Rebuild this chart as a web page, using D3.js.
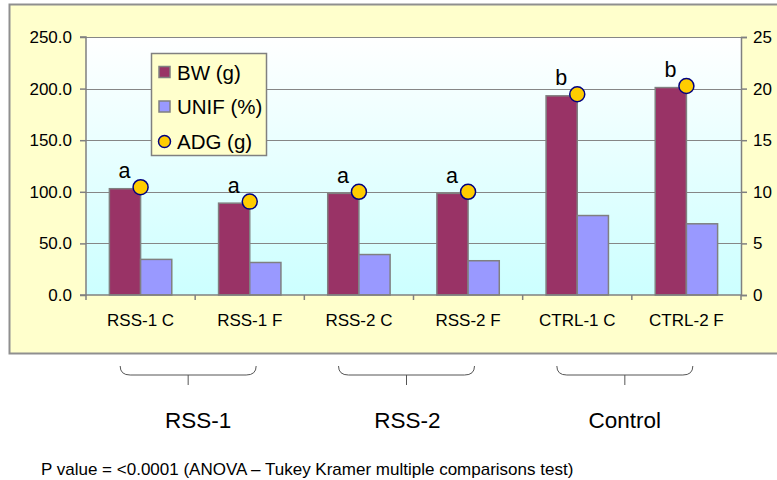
<!DOCTYPE html>
<html>
<head>
<meta charset="utf-8">
<script src="https://cdn.jsdelivr.net/npm/d3@7"></script>
<style>
  body { margin: 0; background: #ffffff; }
  svg { display: block; font-family: "Liberation Sans", Arial, sans-serif; }
</style>
</head>
<body>
<svg id="chart" width="777" height="480"></svg>
<script>
// ---- data ----
const categories = ["RSS-1 C", "RSS-1 F", "RSS-2 C", "RSS-2 F", "CTRL-1 C", "CTRL-2 F"];
const bwValues   = [103, 89, 98.5, 98.5, 193, 201];
const unifValues = [34.5, 31.5, 39.2, 33.2, 77, 69];
const adgValues  = [10.45, 9.05, 10.0, 10.0, 19.45, 20.25];
const sigLetters = ["a", "a", "a", "a", "b", "b"];
const leftTicks  = [0, 50, 100, 150, 200, 250];
const rightTicks = [0, 5, 10, 15, 20, 25];
const seriesNames = ["BW (g)", "UNIF (%)", "ADG (g)"];
const groups = [
  { name: "RSS-1",   members: ["RSS-1 C", "RSS-1 F"] },
  { name: "RSS-2",   members: ["RSS-2 C", "RSS-2 F"] },
  { name: "Control", members: ["CTRL-1 C", "CTRL-2 F"] }
];
const footnote = "P value = <0.0001 (ANOVA \u2013 Tukey Kramer multiple comparisons test)";

// ---- layout ----
const svg = d3.select("#chart");
const plot = { left: 86, right: 741, top: 37, bottom: 295 };
const colors = { bw: "#993366", unif: "#9999FF", adg: "#FFCC00", adgStroke: "#000080", grid: "#868686", outline: "#808080" };

const x = d3.scaleBand().domain(categories).range([plot.left, plot.right]);
const xSub = d3.scaleBand().domain(["BW", "UNIF"]).range([0, x.bandwidth()]).paddingInner(0).paddingOuter(0.75);
const yL = d3.scaleLinear().domain([0, 250]).range([plot.bottom, plot.top]);
const yR = d3.scaleLinear().domain([0, 25]).range([plot.bottom, plot.top]);

// chart area background
svg.append("rect").attr("x", 9.5).attr("y", 4.5).attr("width", 800).attr("height", 349)
  .attr("fill", "#FFFFCC").attr("stroke", "#8f8f8f").attr("stroke-width", 2);

// plot gradient
const defs = svg.append("defs");
const grad = defs.append("linearGradient").attr("id", "pg").attr("x1", 0).attr("y1", 0).attr("x2", 0).attr("y2", 1);
grad.append("stop").attr("offset", "0%").attr("stop-color", "#FFFFFF");
grad.append("stop").attr("offset", "100%").attr("stop-color", "#CCFFFF");
svg.append("rect").attr("x", plot.left).attr("y", plot.top)
  .attr("width", plot.right - plot.left).attr("height", plot.bottom - plot.top)
  .attr("fill", "url(#pg)");

// gridlines
svg.append("g").selectAll("line").data(leftTicks.filter(d => d > 0)).join("line")
  .attr("x1", plot.left).attr("x2", plot.right)
  .attr("y1", d => Math.round(yL(d)) + 0.5).attr("y2", d => Math.round(yL(d)) + 0.5)
  .attr("stroke", colors.grid).attr("stroke-width", 1);

// left axis
const axL = svg.append("g").attr("transform", `translate(${plot.left},0)`)
  .call(d3.axisLeft(yL).tickValues(leftTicks).tickFormat(d3.format(".1f")).tickSize(6).tickPadding(8));
axL.selectAll("path, line").attr("stroke", colors.outline).attr("stroke-width", 1.5);
axL.selectAll("text").attr("font-size", 17).attr("fill", "#000").attr("font-family", "Liberation Sans, Arial, sans-serif");
axL.select(".domain").attr("d", `M-6,${plot.top}H0V${plot.bottom}H-6`);

// right axis
const axR = svg.append("g").attr("transform", `translate(${plot.right},0)`)
  .call(d3.axisRight(yR).tickValues(rightTicks).tickFormat(d3.format("d")).tickSize(6).tickPadding(6));
axR.selectAll("path, line").attr("stroke", colors.outline).attr("stroke-width", 1.5);
axR.selectAll("text").attr("font-size", 17).attr("fill", "#000").attr("font-family", "Liberation Sans, Arial, sans-serif");

// bars
const barG = svg.append("g");
categories.forEach((c, i) => {
  barG.append("rect").attr("x", x(c) + xSub("BW")).attr("y", yL(bwValues[i]))
    .attr("width", xSub.bandwidth()).attr("height", yL(0) - yL(bwValues[i]))
    .attr("fill", colors.bw).attr("stroke", colors.outline).attr("stroke-width", 1.5);
  barG.append("rect").attr("x", x(c) + xSub("UNIF")).attr("y", yL(unifValues[i]))
    .attr("width", xSub.bandwidth()).attr("height", yL(0) - yL(unifValues[i]))
    .attr("fill", colors.unif).attr("stroke", colors.outline).attr("stroke-width", 1.5);
});

// x axis
const boundaries = categories.map(c => x(c)).concat([plot.right]);
svg.append("line").attr("x1", plot.left).attr("x2", plot.right)
  .attr("y1", plot.bottom).attr("y2", plot.bottom).attr("stroke", colors.outline).attr("stroke-width", 1.5);
svg.append("g").selectAll("line").data(boundaries).join("line")
  .attr("x1", d => d).attr("x2", d => d).attr("y1", plot.bottom).attr("y2", plot.bottom + 5)
  .attr("stroke", colors.outline).attr("stroke-width", 1.5);
svg.append("g").selectAll("text").data(categories).join("text")
  .attr("x", d => x(d) + x.bandwidth() / 2).attr("y", 326)
  .attr("text-anchor", "middle").attr("font-size", 17).attr("fill", "#000").text(d => d);

// ADG points
const cx = c => x(c) + x.bandwidth() / 2;
svg.append("g").selectAll("circle").data(categories).join("circle")
  .attr("cx", cx).attr("cy", (d, i) => yR(adgValues[i])).attr("r", 7.5)
  .attr("fill", colors.adg).attr("stroke", colors.adgStroke).attr("stroke-width", 1.5);

// significance letters
svg.append("g").selectAll("text").data(categories).join("text")
  .attr("x", d => cx(d) - 16).attr("y", (d, i) => yR(adgValues[i]) - 9)
  .attr("text-anchor", "middle").attr("font-size", 21.5).attr("fill", "#000")
  .text((d, i) => sigLetters[i]);

// legend
const lg = svg.append("g");
lg.append("rect").attr("x", 151.5).attr("y", 53.5).attr("width", 115).attr("height", 102)
  .attr("fill", "#FFFFCC").attr("stroke", colors.outline).attr("stroke-width", 1.5);
const legendY = [72, 106.5, 141.5];
lg.append("rect").attr("x", 159).attr("y", legendY[0] - 5.5).attr("width", 11).attr("height", 11)
  .attr("fill", colors.bw).attr("stroke", colors.outline).attr("stroke-width", 1.5);
lg.append("rect").attr("x", 159).attr("y", legendY[1] - 5.5).attr("width", 11).attr("height", 11)
  .attr("fill", colors.unif).attr("stroke", colors.outline).attr("stroke-width", 1.5);
lg.append("circle").attr("cx", 164.5).attr("cy", legendY[2]).attr("r", 6)
  .attr("fill", colors.adg).attr("stroke", colors.adgStroke).attr("stroke-width", 1.5);
lg.selectAll("text.lt").data(seriesNames).join("text").attr("class", "lt")
  .attr("x", 177).attr("y", (d, i) => legendY[i] + 7.5)
  .attr("font-size", 20.5).attr("fill", "#000").text(d => d);

// group braces
const braceG = svg.append("g");
const labelShift = [10, 1, 0];
groups.forEach((g, gi) => {
  const mid = x(g.members[1]) - 7;       // brace centre (slightly left of the shared boundary)
  const half = 68;
  const x0 = mid - half, x1 = mid + half;
  const yTop = 366, yLine = 375, yStem = 385;
  braceG.append("path")
    .attr("d", `M${x0},${yTop} Q${x0},${yLine} ${x0 + 10},${yLine} H${x1 - 10} Q${x1},${yLine} ${x1},${yTop}`)
    .attr("fill", "none").attr("stroke", "#555").attr("stroke-width", 1);
  braceG.append("line").attr("x1", mid).attr("x2", mid).attr("y1", yLine).attr("y2", yStem)
    .attr("stroke", "#555").attr("stroke-width", 1);
  braceG.append("text").attr("x", mid + labelShift[gi]).attr("y", 428)
    .attr("text-anchor", "middle").attr("font-size", 22.5).attr("fill", "#000").text(g.name);
});

// footnote
svg.append("text").attr("x", 41).attr("y", 475).attr("font-size", 17).attr("fill", "#000").text(footnote);
</script>
</body>
</html>
